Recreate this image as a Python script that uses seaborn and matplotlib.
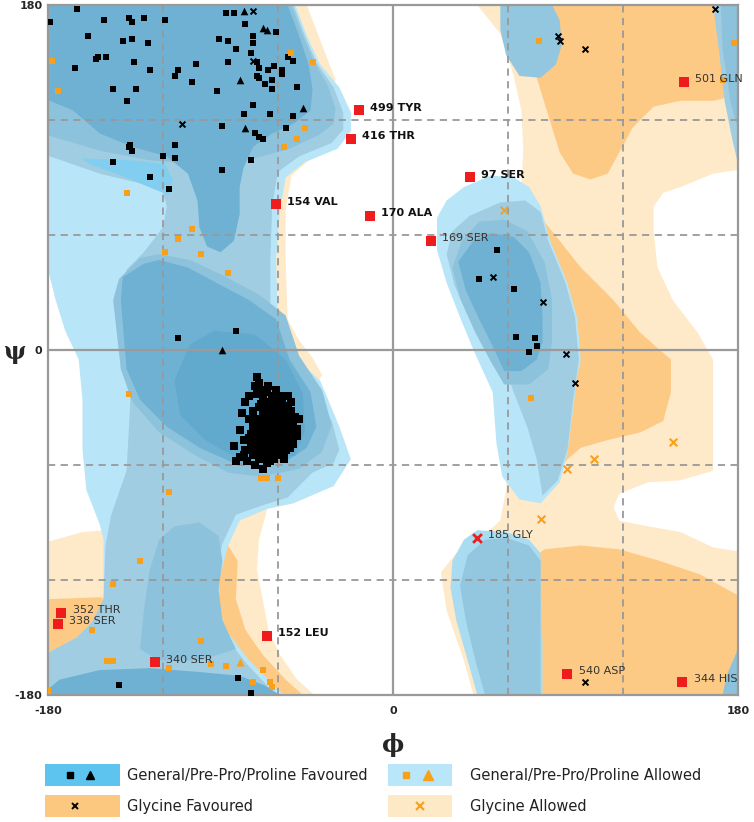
import matplotlib
matplotlib.use("Agg")
import matplotlib.pyplot as plt
import seaborn as sns
from matplotlib.patches import Rectangle

# ---------------- background regions: outlines as (phi, psi) in degrees ----------------
# glycine allowed (cream)
gly_allowed_right = [(44, 180), (180, 180), (180, 94), (167, 92), (150, 85), (141, 82), (136, 75), (136, 61),
                     (138, 43), (146, 26), (159, 9), (167, -5), (167, -63), (150, -68), (133, -69), (118, -75),
                     (115, -82), (118, -89), (133, -92), (150, -95), (167, -103), (180, -105), (180, -180),
                     (42, -180), (37, -162), (28, -136), (25, -116), (33, -106), (45, -99), (56, -89), (59, -73),
                     (62, -26), (65, 52), (68, 104), (67, 125), (63, 143), (56, 165)]
gly_allowed_strip = [(-80, 180), (-45, 180), (-37, 159), (-30, 141), (-38, 104), (-53, 91), (-56, 73), (-56, 47),
                     (-55, 16), (-49, 5), (-42, -4), (-37, -13), (-40, -18), (-75, -16)]
gly_allowed_notch = [(-180, -100), (-162, -95), (-149, -94), (-148, -136), (-180, -136)]
gly_allowed_mid = [(-75, -81), (-65, -81), (-70, -99), (-71, -115), (-68, -130), (-65, -146), (-59, -159),
                   (-50, -172), (-41, -180), (-101, -180), (-101, -89)]

# glycine favoured (orange)
gly_fav_top = [(78, 180), (180, 180), (180, 133), (167, 130), (150, 130), (136, 127), (125, 116), (118, 103),
               (112, 92), (103, 89), (94, 92), (87, 103), (83, 116), (75, 142), (71, 162)]
gly_fav_mid = [(71, 70), (79, 67), (98, 43), (115, 26), (129, 9), (145, -5), (145, -22), (141, -37), (129, -43),
               (112, -47), (98, -51), (91, -57), (86, -64), (79, -26), (74, 26)]
gly_fav_bot = [(71, -110), (79, -104), (98, -102), (118, -104), (139, -110), (160, -117), (180, -128),
               (180, -180), (75, -180), (71, -130)]
gly_fav_notch = [(-180, -130), (-153, -129), (-148, -130), (-148, -157), (-180, -159)]
gly_fav_left = [(-86, -102), (-81, -110), (-82, -130), (-77, -146), (-68, -159), (-56, -172), (-47, -180),
                (-101, -180), (-101, -102)]

# general / pre-pro / proline, left half (blues, outer to inner)
gen_allowed_left = [(-180, 180), (-51, 180), (-45, 164), (-38, 149), (-28, 137), (-22, 124), (-22, 114),
                    (-29, 105), (-46, 98), (-56, 90), (-59, 73), (-61, 47), (-60, 10), (-55, 1), (-49, -6),
                    (-38, -16), (-28, -40), (-22, -57), (-31, -71), (-52, -80), (-66, -83), (-80, -89),
                    (-86, -102), (-90, -117), (-91, -130), (-88, -145), (-75, -162), (-57, -180), (-180, -180),
                    (-180, -158), (-165, -150), (-157, -142), (-151, -130), (-151, -99), (-153, -91),
                    (-160, -73), (-162, -52), (-162, -26), (-164, -5), (-171, 10), (-176, 26), (-180, 42)]
gen_mid_left = [(-180, 180), (-52, 180), (-46, 164), (-40, 150), (-31, 137), (-26, 124), (-26, 115), (-32, 108),
                (-49, 101), (-60, 93), (-63, 76), (-64, 47), (-64, 10), (-59, -4), (-51, -15), (-41, -22),
                (-32, -37), (-28, -52), (-31, -59), (-42, -64), (-55, -77), (-68, -81), (-82, -86), (-89, -101),
                (-93, -117), (-94, -130), (-90, -146), (-77, -163), (-61, -180), (-180, -180), (-180, -158),
                (-165, -150), (-157, -142), (-151, -130), (-150, -102), (-147, -86), (-139, -63), (-137, -26),
                (-139, -5), (-142, 10), (-142, 26), (-139, 42), (-130, 51), (-120, 64), (-118, 75), (-120, 82),
                (-132, 87), (-153, 92), (-179, 101), (-180, 101)]
beta_ring = [(-180, 180), (-53, 180), (-47, 164), (-41, 150), (-34, 138), (-30, 126), (-31, 118), (-39, 112),
             (-54, 105), (-72, 100), (-101, 97), (-127, 99), (-153, 104), (-180, 112)]
beta_streak = [(-163, 100), (-137, 99), (-119, 97), (-115, 89), (-117, 81), (-127, 85), (-142, 91), (-158, 97)]
beta_fav = [(-180, 180), (-55, 180), (-49, 164), (-44, 149), (-42, 136), (-43, 125), (-52, 118), (-63, 113),
            (-73, 106), (-78, 95), (-80, 85), (-80, 71), (-83, 57), (-90, 51), (-97, 54), (-101, 64), (-102, 78),
            (-107, 92), (-118, 101), (-136, 106), (-153, 113), (-167, 125), (-179, 130), (-180, 130)]
alpha_ring = [(-143, 37), (-132, 48), (-122, 50), (-106, 47), (-89, 39), (-70, 29), (-56, 18), (-49, -3),
              (-37, -21), (-32, -39), (-37, -53), (-49, -62), (-69, -66), (-86, -64), (-103, -55), (-122, -43),
              (-136, -27), (-142, -10), (-146, 26)]
alpha_fav = [(-141, 38), (-130, 45), (-122, 47), (-107, 43), (-92, 35), (-75, 26), (-61, 16), (-54, -5),
             (-43, -22), (-40, -40), (-45, -51), (-54, -57), (-69, -61), (-83, -59), (-101, -51), (-118, -40),
             (-132, -26), (-139, -10), (-142, 26)]
alpha_core = [(-93, 10), (-72, 8), (-56, -5), (-47, -23), (-46, -42), (-51, -55), (-67, -58), (-82, -56),
              (-98, -47), (-111, -34), (-114, -16), (-106, 3)]
bridge_blob = [(-114, -92), (-101, -90), (-91, -97), (-89, -110), (-91, -125), (-89, -141), (-82, -156),
               (-101, -162), (-122, -162), (-132, -156), (-130, -136), (-127, -115), (-122, -99)]
bottom_band = [(-180, -177), (-174, -172), (-153, -167), (-127, -166), (-101, -168), (-80, -170), (-67, -175),
               (-59, -180), (-180, -180)]

# right half blues
lh_allowed = [(37, 85), (51, 91), (63, 90), (71, 85), (77, 75), (82, 57), (91, 35), (96, 17), (98, -5),
              (96, -14), (94, -31), (91, -54), (87, -69), (77, -80), (66, -78), (57, -66), (54, -49), (52, -22),
              (42, 0), (35, 17), (28, 35), (23, 52), (23, 69), (28, 78)]
lh_mid = [(28, 50), (31, 62), (40, 70), (56, 77), (69, 78), (77, 72), (81, 57), (90, 35), (95, 17), (97, -5),
          (94, -26), (91, -52), (86, -68), (78, -76), (75, -57), (70, -40), (63, -22), (58, -8), (48, 3),
          (39, 18), (32, 34)]
lh_ring = [(36, 57), (45, 67), (58, 68), (70, 62), (79, 46), (83, 26), (83, 5), (81, -10), (71, -18), (58, -18),
           (51, -6), (43, 9), (35, 27), (31, 43)]
lh_fav = [(42, 57), (51, 61), (63, 59), (71, 51), (77, 35), (78, 17), (78, 4), (75, -5), (67, -11), (58, -11),
          (53, 0), (45, 16), (38, 31), (34, 46)]
top_blob = [(56, 180), (83, 180), (87, 172), (88, 159), (85, 149), (77, 142), (66, 143), (59, 154), (56, 167)]
edge_outer = [(167, 180), (180, 180), (180, 97), (177, 110), (173, 130), (170, 157)]
edge_inner = [(171, 180), (180, 180), (180, 115), (176, 130), (172, 157)]
corner_blob = [(180, -156), (180, -180), (172, -180), (174, -170)]
low_outer = [(44, -94), (59, -95), (71, -99), (77, -106), (77, -127), (78, -153), (78, -180), (44, -180),
             (39, -162), (33, -141), (30, -124), (31, -110), (37, -99)]
low_inner = [(48, -99), (59, -98), (71, -102), (77, -110), (77, -180), (48, -180), (43, -162), (38, -141),
             (35, -123), (39, -107)]

# ---------------- residues ----------------
fav_sq = [(-179, 171), (-165, 178), (-151, 172), (-138, 173), (-136, 171), (-130, 173), (-119, 172), (-87, 176),
          (-83, 176), (-77, 170), (-61, 166), (-159, 164), (-141, 161), (-136, 162), (-128, 160), (-91, 162),
          (-86, 161), (-82, 157), (-73, 164), (-73, 160), (-74, 155), (-154, 153), (-155, 152), (-150, 153),
          (-135, 150), (-166, 147), (-127, 146), (-103, 149), (-86, 150), (-112, 146), (-114, 143), (-105, 140),
          (-71, 150), (-70, 147), (-65, 146), (-62, 148), (-58, 146), (-58, 144), (-71, 143), (-70, 142),
          (-63, 141), (-67, 139), (-55, 153), (-52, 151), (-146, 136), (-134, 136), (-92, 135), (-63, 136),
          (-50, 137), (-139, 130), (-73, 128), (-78, 123), (-64, 123), (-52, 122), (-89, 117), (-56, 116),
          (-72, 113), (-70, 111), (-68, 110), (-137, 107), (-136, 104), (-138, 106), (-114, 107), (-120, 101),
          (-114, 100), (-146, 98), (-89, 94), (-74, 99), (-127, 90), (-117, 84), (-112, 6), (-82, 10),
          (54, 52), (45, 37), (63, 32), (64, 7), (74, 6), (75, 2), (71, -1),
          (-143, -175), (-81, -171), (-74, -179)]
alpha_cluster = [(-71, -14), (-70, -17), (-72, -19), (-69, -21), (-71, -23), (-66, -22), (-68, -25), (-63, -24),
                 (-60, -25), (-65, -27), (-58, -27), (-62, -28), (-67, -29), (-55, -29), (-60, -30), (-64, -31),
                 (-70, -30), (-57, -31), (-53, -32), (-61, -32), (-66, -33), (-73, -32), (-59, -33), (-55, -34),
                 (-63, -34), (-68, -35), (-51, -35), (-57, -35), (-61, -36), (-65, -36), (-70, -37), (-75, -36),
                 (-54, -37), (-59, -37), (-63, -38), (-67, -38), (-52, -39), (-56, -39), (-60, -39), (-64, -40),
                 (-69, -40), (-73, -40), (-58, -41), (-62, -41), (-66, -42), (-54, -42), (-50, -41), (-60, -43),
                 (-64, -43), (-68, -44), (-72, -43), (-56, -44), (-62, -45), (-58, -46), (-66, -46), (-53, -46),
                 (-70, -47), (-60, -47), (-64, -48), (-56, -48), (-75, -46), (-62, -50), (-67, -50), (-58, -50),
                 (-72, -50), (-54, -51), (-64, -52), (-60, -53), (-69, -53), (-77, -52), (-65, -55), (-58, -55),
                 (-73, -55), (-80, -56), (-70, -57), (-62, -57), (-76, -58), (-66, -59), (-72, -60), (-82, -58),
                 (-68, -62), (-77, -27), (-79, -33), (-80, -42), (-78, -47), (-83, -50), (-75, -24), (-49, -36),
                 (-50, -45), (-52, -49), (-55, -24), (-57, -57), (-61, -21), (-65, -19), (-57, -53), (-74, -44),
                 (-61, -26), (-64, -29), (-59, -29), (-56, -32), (-68, -32), (-62, -35), (-58, -36), (-66, -37),
                 (-55, -38), (-61, -38), (-71, -39), (-57, -40), (-63, -42), (-67, -41), (-53, -44), (-59, -44),
                 (-65, -44), (-70, -45), (-61, -46), (-55, -47), (-67, -48), (-59, -49), (-63, -51), (-70, -51),
                 (-56, -52), (-66, -53), (-61, -55), (-74, -52), (-68, -56), (-64, -58), (-60, -40), (-52, -42),
                 (-72, -36), (-69, -28), (-74, -48), (-78, -55), (-57, -24), (-53, -27)]
fav_tri = [(-78, 177), (-68, 168), (-66, 167), (-80, 141), (-47, 126), (-77, 116), (-89, 0)]
gly_fav_pts = [(-73, 177), (-73, 151), (-110, 118), (168, 178), (86, 164), (87, 161), (100, 157), (52, 38),
               (78, 25), (90, -2), (95, -17), (100, -173), (-51, -43)]
allow_sq = [(-178, 151), (-175, 135), (-53, 155), (-42, 150), (-46, 116), (-50, 110), (-57, 106), (-139, 82),
            (-105, 63), (-112, 58), (-119, 51), (-100, 50), (-86, 40), (76, 161), (178, 160), (172, 141),
            (-138, -23), (-69, -67), (-66, -67), (-60, -67), (-117, -74), (-132, -110), (-146, -122),
            (-157, -146), (-149, -162), (-146, -162), (-100, -152), (-117, -166), (-95, -164), (-87, -165),
            (-68, -167), (-73, -173), (-64, -173), (-63, -176), (-180, -178), (72, -25)]
allow_tri = [(-80, -163)]
gly_allow_pts = [(58, 73), (146, -48), (105, -57), (91, -62), (77, -88)]

outlier_names = ["499 TYR", "416 THR", "154 VAL", "170 ALA", "501 GLN", "97 SER", "169 SER", "352 THR",
                 "338 SER", "152 LEU", "340 SER", "540 ASP", "344 HIS", "185 GLY"]
outlier_phi = [-18, -22, -61, -12, 152, 40, 20, -173, -175, -66, -124, 91, 151, 44]
outlier_psi = [125, 110, 76, 70, 140, 90, 57, -137, -143, -149, -163, -169, -173, -98]
outlier_bold = [True, True, True, True, False, True, False, False, False, True, False, False, False, False]

CREAM, ORANGE = "#fee9c8", "#fdca85"
LIGHT, MID, MIDD, DARK, DARKEST, BRIGHT = "#b8e5f7", "#a0cde2", "#8cc2dc", "#6fb1d3", "#62a9ce", "#82cef0"
PT_ORANGE, PT_RED = "#f9a01b", "#ee1c1c"

sns.set_style("white")
plt.rcParams["font.family"] = ["DejaVu Sans"]

fig = plt.figure(figsize=(7.54, 8.22), dpi=100)
ax = fig.add_axes([48 / 754, 1 - 695 / 822, 690 / 754, 690 / 822])

layers = [
    (gly_allowed_right, CREAM), (gly_allowed_strip, CREAM), (gly_allowed_notch, CREAM), (gly_allowed_mid, CREAM),
    (gly_fav_top, ORANGE), (gly_fav_mid, ORANGE), (gly_fav_bot, ORANGE), (gly_fav_notch, ORANGE),
    (gly_fav_left, ORANGE),
    (gen_allowed_left, LIGHT), (gen_mid_left, MID), (beta_ring, MIDD), (beta_streak, BRIGHT), (beta_fav, DARK),
    (alpha_ring, MIDD), (alpha_fav, DARK), (alpha_core, DARKEST), (bridge_blob, MIDD), (bottom_band, DARK),
    (lh_allowed, LIGHT), (lh_mid, MID), (lh_ring, MIDD), (lh_fav, DARK),
    (top_blob, "#93c6df"), (edge_outer, MID), (edge_inner, MIDD), (corner_blob, MIDD),
    (low_outer, "#a9dcf1"), (low_inner, "#93c6df"),
]
for region, col in layers:
    xs, ys = zip(*region)
    ax.fill(xs, ys, color=col, lw=0, zorder=1)

# grid
for v in (-120, -60, 60, 120):
    ax.axvline(v, color="#999999", lw=1.3, ls=(0, (4, 3)), zorder=2)
    ax.axhline(v, color="#999999", lw=1.3, ls=(0, (4, 3)), zorder=2)
ax.axvline(0, color="#9a9a9a", lw=1.6, zorder=2)
ax.axhline(0, color="#9a9a9a", lw=1.6, zorder=2)


def pts(data, **kw):
    xs, ys = zip(*data)
    sns.scatterplot(x=list(xs), y=list(ys), ax=ax, zorder=4, legend=False, **kw)


pts(fav_sq, marker="s", color="black", s=17, linewidth=0)
pts(alpha_cluster, marker="s", color="black", s=26, linewidth=0)
pts(fav_tri, marker="^", color="black", s=30, linewidth=0)
pts(gly_fav_pts, marker="x", color="black", s=18, linewidth=1.4)
pts(allow_sq, marker="s", color=PT_ORANGE, s=24, linewidth=0)
pts(allow_tri, marker="^", color=PT_ORANGE, s=34, linewidth=0)
pts(gly_allow_pts, marker="x", color=PT_ORANGE, s=30, linewidth=1.5)

for name, ph, ps, bold in zip(outlier_names, outlier_phi, outlier_psi, outlier_bold):
    if name.endswith("GLY"):
        ax.scatter(ph, ps, marker="x", color=PT_RED, s=40, linewidths=2, zorder=5)
    else:
        ax.scatter(ph, ps, marker="s", color=PT_RED, s=42, linewidths=0, zorder=5)
    ax.annotate(name, (ph, ps), xytext=(8, 2), textcoords="offset points", fontsize=8,
                fontweight="bold" if bold else "normal", color="#111111" if bold else "#333333",
                va="center", ha="left", zorder=6)

ax.set_xlim(-180, 180)
ax.set_ylim(-180, 180)
ax.set_xticks([-180, 0, 180])
ax.set_yticks([-180, 0, 180])
ax.set_xticklabels(["-180", "0", "180"], fontsize=8, fontweight="bold")
ax.set_yticklabels(["-180", "0", "180"], fontsize=8, fontweight="bold")
ax.tick_params(axis="x", length=0, pad=8)
ax.tick_params(axis="y", length=0, pad=4)
for sp in ax.spines.values():
    sp.set_color("#999999")
    sp.set_linewidth(1.6)
    sp.set_zorder(3)

ax.text(0.5, -50 / 690, "ϕ", transform=ax.transAxes, ha="center", va="center", fontsize=17,
        family="DejaVu Serif", fontweight="bold")
ax.text(-33 / 690, 0.497, "ψ", transform=ax.transAxes, ha="center", va="center", fontsize=17,
        family="DejaVu Serif", fontweight="bold")

# legend drawn in figure pixels
lax = fig.add_axes([0, 0, 1, 80 / 822])
lax.set_xlim(0, 754)
lax.set_ylim(822, 742)
lax.axis("off")
legend_rows = [
    (45, 764, 75, "#5cc4ee", "General/Pre-Pro/Proline Favoured"),
    (388, 764, 64, "#b9e6f8", "General/Pre-Pro/Proline Allowed"),
    (45, 795, 75, "#fcc77f", "Glycine Favoured"),
    (388, 795, 64, "#fee9c6", "Glycine Allowed"),
]
for x0, y0, w, col, lab in legend_rows:
    lax.add_patch(Rectangle((x0, y0), w, 22, color=col, lw=0))
    lax.text(x0 + 82, y0 + 11, lab, va="center", ha="left", fontsize=10.5, color="#222222")
lax.plot([70], [775], marker="s", color="black", ms=4, ls="none")
lax.plot([90], [775], marker="^", color="black", ms=6, ls="none")
lax.plot([406], [775], marker="s", color=PT_ORANGE, ms=5, ls="none")
lax.plot([428], [775], marker="^", color=PT_ORANGE, ms=7, ls="none")
lax.plot([75], [806], marker="x", color="black", ms=5, mew=1.4, ls="none")
lax.plot([420], [806], marker="x", color=PT_ORANGE, ms=6, mew=1.5, ls="none")

fig.savefig("out.png", dpi=100)
